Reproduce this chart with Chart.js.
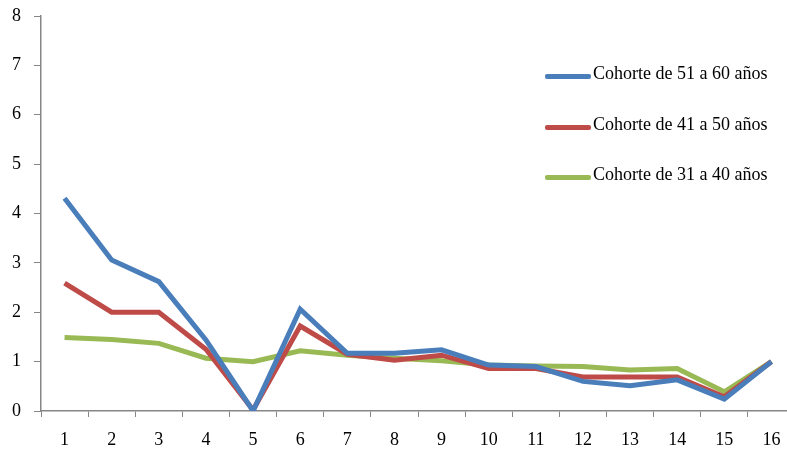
<!DOCTYPE html>
<html>
<head>
<meta charset="utf-8">
<script src="https://cdn.jsdelivr.net/npm/chart.js@4/dist/chart.umd.min.js"></script>
<style>
  html, body { margin: 0; padding: 0; background: #fff; overflow: hidden; }
  #wrap { position: relative; width: 800px; height: 453px; }
  #legend { position: absolute; left: 545px; top: 63px; font-family: "Liberation Serif", serif; font-size: 18px; color: #000; }
  #legend div { height: 50.5px; display: flex; align-items: flex-start; white-space: nowrap; }
  #legend span.ln { display: inline-block; width: 46px; height: 5px; border-radius: 2px; margin-top: 11px; margin-right: 2px; }
</style>
</head>
<body>
<div id="wrap">
  <canvas id="myChart" width="800" height="453"></canvas>
  <div id="legend"></div>
</div>
<script>
// periods 1..16
const labels = ['1','2','3','4','5','6','7','8','9','10','11','12','13','14','15','16'];

const cohorte5160 = [4.31, 3.06, 2.62, 1.44, 0.0, 2.06, 1.17, 1.17, 1.24, 0.93, 0.90, 0.60, 0.51, 0.63, 0.24, 1.0];
const cohorte4150 = [2.59, 2.0, 2.0, 1.25, 0.02, 1.72, 1.15, 1.03, 1.13, 0.86, 0.86, 0.69, 0.69, 0.69, 0.29, 1.0];
const cohorte3140 = [1.49, 1.45, 1.37, 1.07, 1.0, 1.22, 1.13, 1.07, 1.02, 0.93, 0.91, 0.90, 0.83, 0.86, 0.39, 1.0];

const seriesNames = ['Cohorte de 51 a 60 años', 'Cohorte de 41 a 50 años', 'Cohorte de 31 a 40 años'];
const colors = ['#4A7EBB', '#BE4B48', '#98B954'];

const axisColor = '#868686';
const tickFont = { family: 'Liberation Serif', size: 18 };

const ctx = document.getElementById('myChart').getContext('2d');
const myChart = new Chart(ctx, {
  type: 'line',
  data: {
    labels: labels,
    datasets: [cohorte5160, cohorte4150, cohorte3140].map((d, i) => ({
      label: seriesNames[i],
      data: d,
      borderColor: colors[i],
      backgroundColor: colors[i],
      borderWidth: 5,
      pointRadius: 0,
      tension: 0,
      fill: false
    }))
  },
  options: {
    responsive: false,
    animation: false,
    layout: { padding: { top: 16, right: 5, left: 0, bottom: 0 } },
    plugins: { legend: { display: false }, tooltip: { enabled: false } },
    scales: {
      x: {
        offset: true,
        grid: { display: true, drawOnChartArea: false, offset: true, color: axisColor, tickLength: 6 },
        border: { color: axisColor, width: 1.5 },
        ticks: { color: '#000', font: tickFont, padding: 12, maxRotation: 0, autoSkip: false },
        afterFit: function (s) { s.height = 42; s.paddingLeft = 0; s.paddingRight = 0; }
      },
      y: {
        min: 0,
        max: 8,
        grid: { display: true, drawOnChartArea: false, color: axisColor, tickLength: 7 },
        border: { color: axisColor, width: 1.5 },
        ticks: { stepSize: 1, color: '#000', font: tickFont, padding: 13 },
        afterFit: function (s) { s.width = 41; s.paddingTop = 0; s.paddingBottom = 0; }
      }
    }
  }
});

// legend as html text
const legend = document.getElementById('legend');
seriesNames.forEach((name, i) => {
  const row = document.createElement('div');
  row.innerHTML = '<span class="ln" style="background:' + colors[i] + '"></span><span>' + name + '</span>';
  legend.appendChild(row);
});
</script>
</body>
</html>
